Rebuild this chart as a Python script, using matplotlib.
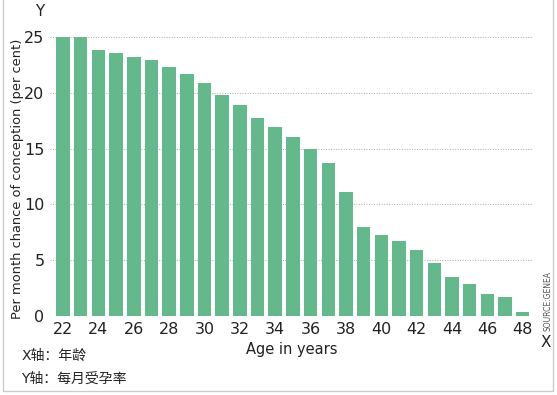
import numpy as np
import matplotlib
matplotlib.use('Agg')
import matplotlib.pyplot as plt
from matplotlib.patches import Rectangle

# --- DATA ---
ages = list(range(22, 49))
chance = [25.0, 25.0, 23.8, 23.6, 23.2, 22.9, 22.35, 21.7, 20.9, 19.8,
          18.9, 17.7, 16.9, 16.0, 15.0, 13.75, 11.1, 8.0, 7.3, 6.75,
          5.9, 4.75, 3.5, 2.85, 1.95, 1.7, 0.35]
xticks = list(range(22, 49, 2))
yticks = [0, 5, 10, 15, 20, 25]

BAR_COLOR = '#63b98c'
TEXT_COLOR = '#222222'

plt.rcParams['font.family'] = ['DejaVu Sans', 'Noto Sans CJK SC']

fig = plt.figure(figsize=(5.57, 3.95), dpi=100)
ax = fig.add_axes([0.0898, 0.2, 0.867, 0.7205])

# fine dotted gridlines behind the bars
for yv in yticks:
    ax.axhline(yv, color='#a8a8a8', linestyle=(0, (1.0, 1.6)), linewidth=0.7, zorder=0)

ax.bar(ages, chance, width=0.76, color=BAR_COLOR, zorder=2)

ax.set_xlim(21.26, 48.58)
ax.set_ylim(0, 25.5)
ax.set_xticks(xticks)
ax.set_yticks(yticks)
ax.tick_params(axis='both', length=0, labelsize=11.5, colors=TEXT_COLOR)
ax.tick_params(axis='x', pad=4)
ax.tick_params(axis='y', pad=4)
for s in ax.spines.values():
    s.set_visible(False)

ax.set_xlabel('Age in years', fontsize=10.5, color=TEXT_COLOR, labelpad=4)
fig.text(0.031, 0.547, 'Per month chance of conception (per cent)',
         rotation=90, ha='center', va='center', fontsize=9.4, color=TEXT_COLOR)

# corner axis letters and source note
fig.text(0.072, 0.972, 'Y', ha='center', va='center', fontsize=11, color=TEXT_COLOR)
fig.text(0.980, 0.132, 'X', ha='center', va='center', fontsize=11, color=TEXT_COLOR)
fig.text(0.984, 0.238, 'SOURCE:GENEA', rotation=90, ha='center', va='center',
         fontsize=5.5, color='#555555')

# chinese notes bottom left
cjk = ['DejaVu Sans', 'Noto Sans CJK SC']
fig.text(0.038, 0.1, 'X轴：年龄', ha='left', va='center', fontsize=10,
         family=cjk, color=TEXT_COLOR)
fig.text(0.038, 0.042, 'Y轴：每月受孕率', ha='left', va='center', fontsize=10,
         family=cjk, color=TEXT_COLOR)

# thin frame around the picture
fig.patches.append(Rectangle((0.006, 0.01), 0.987, 1.2, transform=fig.transFigure,
                             fill=False, edgecolor='#cccccc', linewidth=1))

fig.savefig('out.png', dpi=100)
